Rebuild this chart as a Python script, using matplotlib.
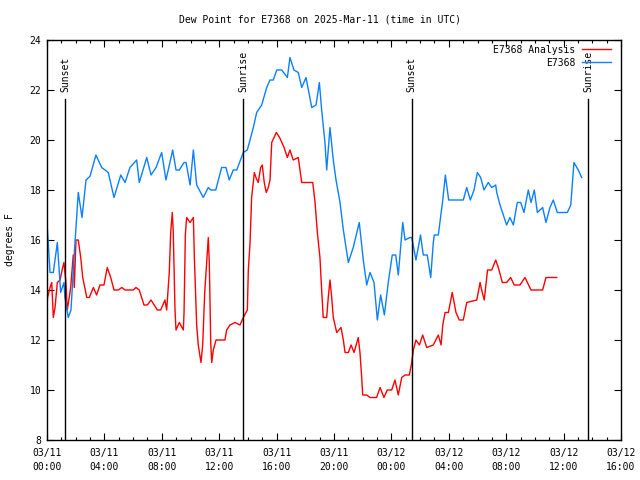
import matplotlib
matplotlib.use("Agg")
import matplotlib.pyplot as plt
from matplotlib.ticker import MultipleLocator

# hours since 2025-03-11 00:00 UTC
obs_hours = [0.00, 0.21, 0.44, 0.72, 0.95, 1.18, 1.25, 1.48, 1.67, 1.95, 2.18, 2.44, 2.72, 3.00, 3.41,
             3.81, 4.27, 4.67, 5.14, 5.44, 5.78, 6.25, 6.43, 6.95, 7.25, 7.60, 7.99, 8.29, 8.76, 8.99,
             9.22, 9.55, 9.69, 9.97, 10.20, 10.43, 10.89, 11.24, 11.41, 11.76, 12.17, 12.47, 12.70,
             12.98, 13.22, 13.68, 13.96, 14.38, 14.61, 14.96, 15.31, 15.54, 15.77, 16.01, 16.36, 16.75,
             16.93, 17.21, 17.51, 17.75, 18.05, 18.45, 18.75, 18.98, 19.14, 19.37, 19.49, 19.72, 19.95,
             20.14, 20.42, 20.65, 21.00, 21.34, 21.76, 22.04, 22.28, 22.51, 22.79, 23.02, 23.25, 23.51,
             23.78, 24.06, 24.30, 24.48, 24.79, 24.95, 25.30, 25.42, 25.71, 26.03, 26.22, 26.50, 26.74,
             26.92, 26.99, 27.27, 27.58, 27.76, 27.99, 29.01, 29.25, 29.50, 29.76, 29.99, 30.22, 30.45,
             30.75, 30.99, 31.27, 31.34, 31.57, 32.03, 32.26, 32.50, 32.77, 33.01, 33.24, 33.54, 33.73,
             33.96, 34.17, 34.54, 34.77, 35.05, 35.28, 35.56, 36.26, 36.50, 36.72, 37.02, 37.26]
obs_dewpt = [16.7, 14.7, 14.7, 15.9, 13.9, 14.3, 13.7, 12.9, 13.2, 15.9, 17.9, 16.9, 18.4, 18.55, 19.4,
             18.9, 18.7, 17.7, 18.6, 18.3, 18.9, 19.2, 18.3, 19.3, 18.6, 18.9, 19.5, 18.4, 19.6, 18.8,
             18.8, 19.1, 19.1, 18.2, 19.6, 18.2, 17.7, 18.1, 18.0, 18.0, 18.9, 18.9, 18.4,
             18.8, 18.8, 19.5, 19.6, 20.5, 21.1, 21.4, 22.1, 22.4, 22.4, 22.8, 22.8, 22.5,
             23.3, 22.8, 22.7, 22.1, 22.5, 21.3, 21.4, 22.3, 21.2, 19.9, 18.8, 20.5, 19.2,
             18.4, 17.5, 16.4, 15.1, 15.7, 16.7, 15.2, 14.2, 14.7, 14.3, 12.8, 13.8, 13.0,
             14.3, 15.4, 15.4, 14.6, 16.7, 16.0, 16.1, 16.1, 15.2, 16.2, 15.4, 15.4, 14.5,
             15.9, 16.2, 16.2, 17.6, 18.6, 17.6, 17.6, 18.1, 17.6, 18.0, 18.7, 18.5, 18.0,
             18.3, 18.1, 18.2, 17.9, 17.4, 16.6, 16.9, 16.6, 17.5, 17.5, 17.1, 18.0, 17.5,
             18.0, 17.1, 17.3, 16.7, 17.3, 17.6, 17.1, 17.1, 17.4, 19.1, 18.8, 18.5]

ana_hours = [0.00, 0.04, 0.21, 0.33, 0.44, 0.56, 0.72, 0.91, 1.09, 1.18, 1.32, 1.41, 1.55, 1.65, 1.83,
             1.90, 2.02, 2.18, 2.35, 2.49, 2.77, 2.95, 3.23, 3.46, 3.69, 3.97, 4.20, 4.44, 4.67, 4.97,
             5.21, 5.44, 6.01, 6.20, 6.43, 6.76, 6.99, 7.25, 7.69, 7.92, 8.22, 8.34, 8.52, 8.62, 8.73,
             8.80, 8.92, 8.99, 9.22, 9.50, 9.55, 9.64, 9.73, 9.97, 10.20, 10.27, 10.43, 10.54, 10.73,
             10.85, 10.99, 11.13, 11.24, 11.31, 11.41, 11.48, 11.59, 11.78, 12.06, 12.40, 12.52, 12.75,
             13.10, 13.45, 13.68, 13.96, 14.03, 14.15, 14.26, 14.45, 14.56, 14.72, 14.89, 15.00, 15.14,
             15.28, 15.42, 15.54, 15.66, 15.98, 16.21, 16.52, 16.75, 16.93, 17.16, 17.51, 17.63, 17.75,
             18.10, 18.52, 18.68, 18.84, 19.02, 19.14, 19.25, 19.49, 19.60, 19.72, 19.84, 19.95, 20.19,
             20.49, 20.65, 20.77, 21.00, 21.19, 21.40, 21.69, 21.81, 21.93, 22.00, 22.28, 22.51, 22.97,
             23.21, 23.48, 23.71, 24.02, 24.25, 24.48, 24.72, 24.95, 25.25, 25.42, 25.53, 25.71, 25.95,
             26.18, 26.46, 26.92, 27.27, 27.46, 27.58, 27.74, 27.97, 28.24, 28.50, 28.73, 29.01, 29.25,
             29.95, 30.18, 30.29, 30.47, 30.70, 30.99, 31.27, 31.45, 31.73, 32.03, 32.31, 32.56, 32.96,
             33.31, 33.73, 34.54, 34.77, 35.52]
ana_dewpt = [13.4, 13.7, 14.1, 14.3, 12.9, 13.3, 14.3, 14.4, 14.9, 15.1, 14.3, 13.2, 13.7, 14.1, 15.4,
             14.1, 16.0, 16.0, 15.3, 14.5, 13.7, 13.7, 14.1, 13.8, 14.2, 14.2, 14.9, 14.5, 14.0, 14.0,
             14.1, 14.0, 14.0, 14.1, 14.0, 13.4, 13.4, 13.6, 13.2, 13.2, 13.6, 13.2, 14.7, 16.3, 17.1,
             16.3, 13.2, 12.4, 12.7, 12.4, 13.1, 16.2, 16.9, 16.7, 16.9, 15.3, 12.6, 11.8, 11.1,
             11.8, 13.9, 15.1, 16.1, 15.1, 11.9, 11.1, 11.6, 12.0, 12.0, 12.0, 12.4, 12.6,
             12.7, 12.6, 12.9, 13.2, 14.8, 15.9, 17.7, 18.7, 18.5, 18.3, 18.9, 19.0, 18.3,
             17.9, 18.1, 18.4, 19.9, 20.3, 20.1, 19.7, 19.3, 19.6, 19.2, 19.3, 18.8, 18.3,
             18.3, 18.3, 17.5, 16.3, 15.3, 14.0, 12.9, 12.9, 13.7, 14.4, 13.7, 12.9, 12.3,
             12.5, 12.0, 11.5, 11.5, 11.8, 11.5, 12.1, 11.5, 10.5, 9.8, 9.8, 9.7, 9.7,
             10.1, 9.7, 10.0, 10.0, 10.4, 9.8, 10.5, 10.6, 10.6, 11.1, 11.6, 12.0, 11.8,
             12.2, 11.7, 11.8, 12.2, 11.8, 12.6, 13.1, 13.1, 13.9, 13.1, 12.8, 12.8, 13.5,
             13.6, 14.3, 14.0, 13.6, 14.8, 14.8, 15.2, 14.9, 14.3, 14.3, 14.5, 14.2, 14.2,
             14.5, 14.0, 14.0, 14.5, 14.5]

sun_hours = [1.25, 13.68, 25.42, 37.72]
sun_labels = ["Sunset", "Sunrise", "Sunset", "Sunrise"]

xtick_hours = [0, 4, 8, 12, 16, 20, 24, 28, 32, 36, 40]
xtick_labels = ["03/11\n00:00", "03/11\n04:00", "03/11\n08:00", "03/11\n12:00", "03/11\n16:00",
                "03/11\n20:00", "03/12\n00:00", "03/12\n04:00", "03/12\n08:00", "03/12\n12:00",
                "03/12\n16:00"]
yticks = [8, 10, 12, 14, 16, 18, 20, 22, 24]

plt.rcParams['font.family'] = ['DejaVu Sans Mono']
plt.rcParams['font.size'] = 7

fig = plt.figure(figsize=(6.4, 4.8), dpi=100)
ax = fig.add_axes([47/640, 1-440/480, (621-47)/640, 400/480])

ax.plot(ana_hours, ana_dewpt, color='#ff0000', lw=1.0, label='E7368 Analysis')
ax.plot(obs_hours, obs_dewpt, color='#0a80ff', lw=1.0, label='E7368')

for h, lab in zip(sun_hours, sun_labels):
    ax.plot([h, h], [8, 21.64], color='black', lw=1.0)
    ax.text(h, 21.9, lab, rotation=90, ha='center', va='bottom', fontsize=7)

ax.set_xlim(0, 40)
ax.set_ylim(8, 24)
ax.set_xticks(xtick_hours)
ax.set_xticklabels(xtick_labels, linespacing=1.5)
ax.set_yticks(yticks)
ax.xaxis.set_minor_locator(MultipleLocator(1))
ax.tick_params(which='both', direction='in', top=True, right=True)
ax.tick_params(which='major', length=5, width=0.8, pad=6)
ax.tick_params(which='minor', length=2.5, width=0.8)
ax.tick_params(axis='y', pad=4)
for s in ax.spines.values():
    s.set_linewidth(1.0)

leg = ax.legend(loc='upper right', bbox_to_anchor=(1.0, 1.0125), frameon=False, markerfirst=False,
                handlelength=3.0, borderaxespad=0.7, borderpad=0.3, labelspacing=0.3,
                handletextpad=0.7, fontsize=7)

fig.text(0.5, 1-19/480, "Dew Point for E7368 on 2025-Mar-11 (time in UTC)", ha='center', va='center', fontsize=7)
fig.text(10/640, 0.5, "degrees F", rotation=90, ha='center', va='center', fontsize=7)

fig.savefig("out.png", dpi=100)
